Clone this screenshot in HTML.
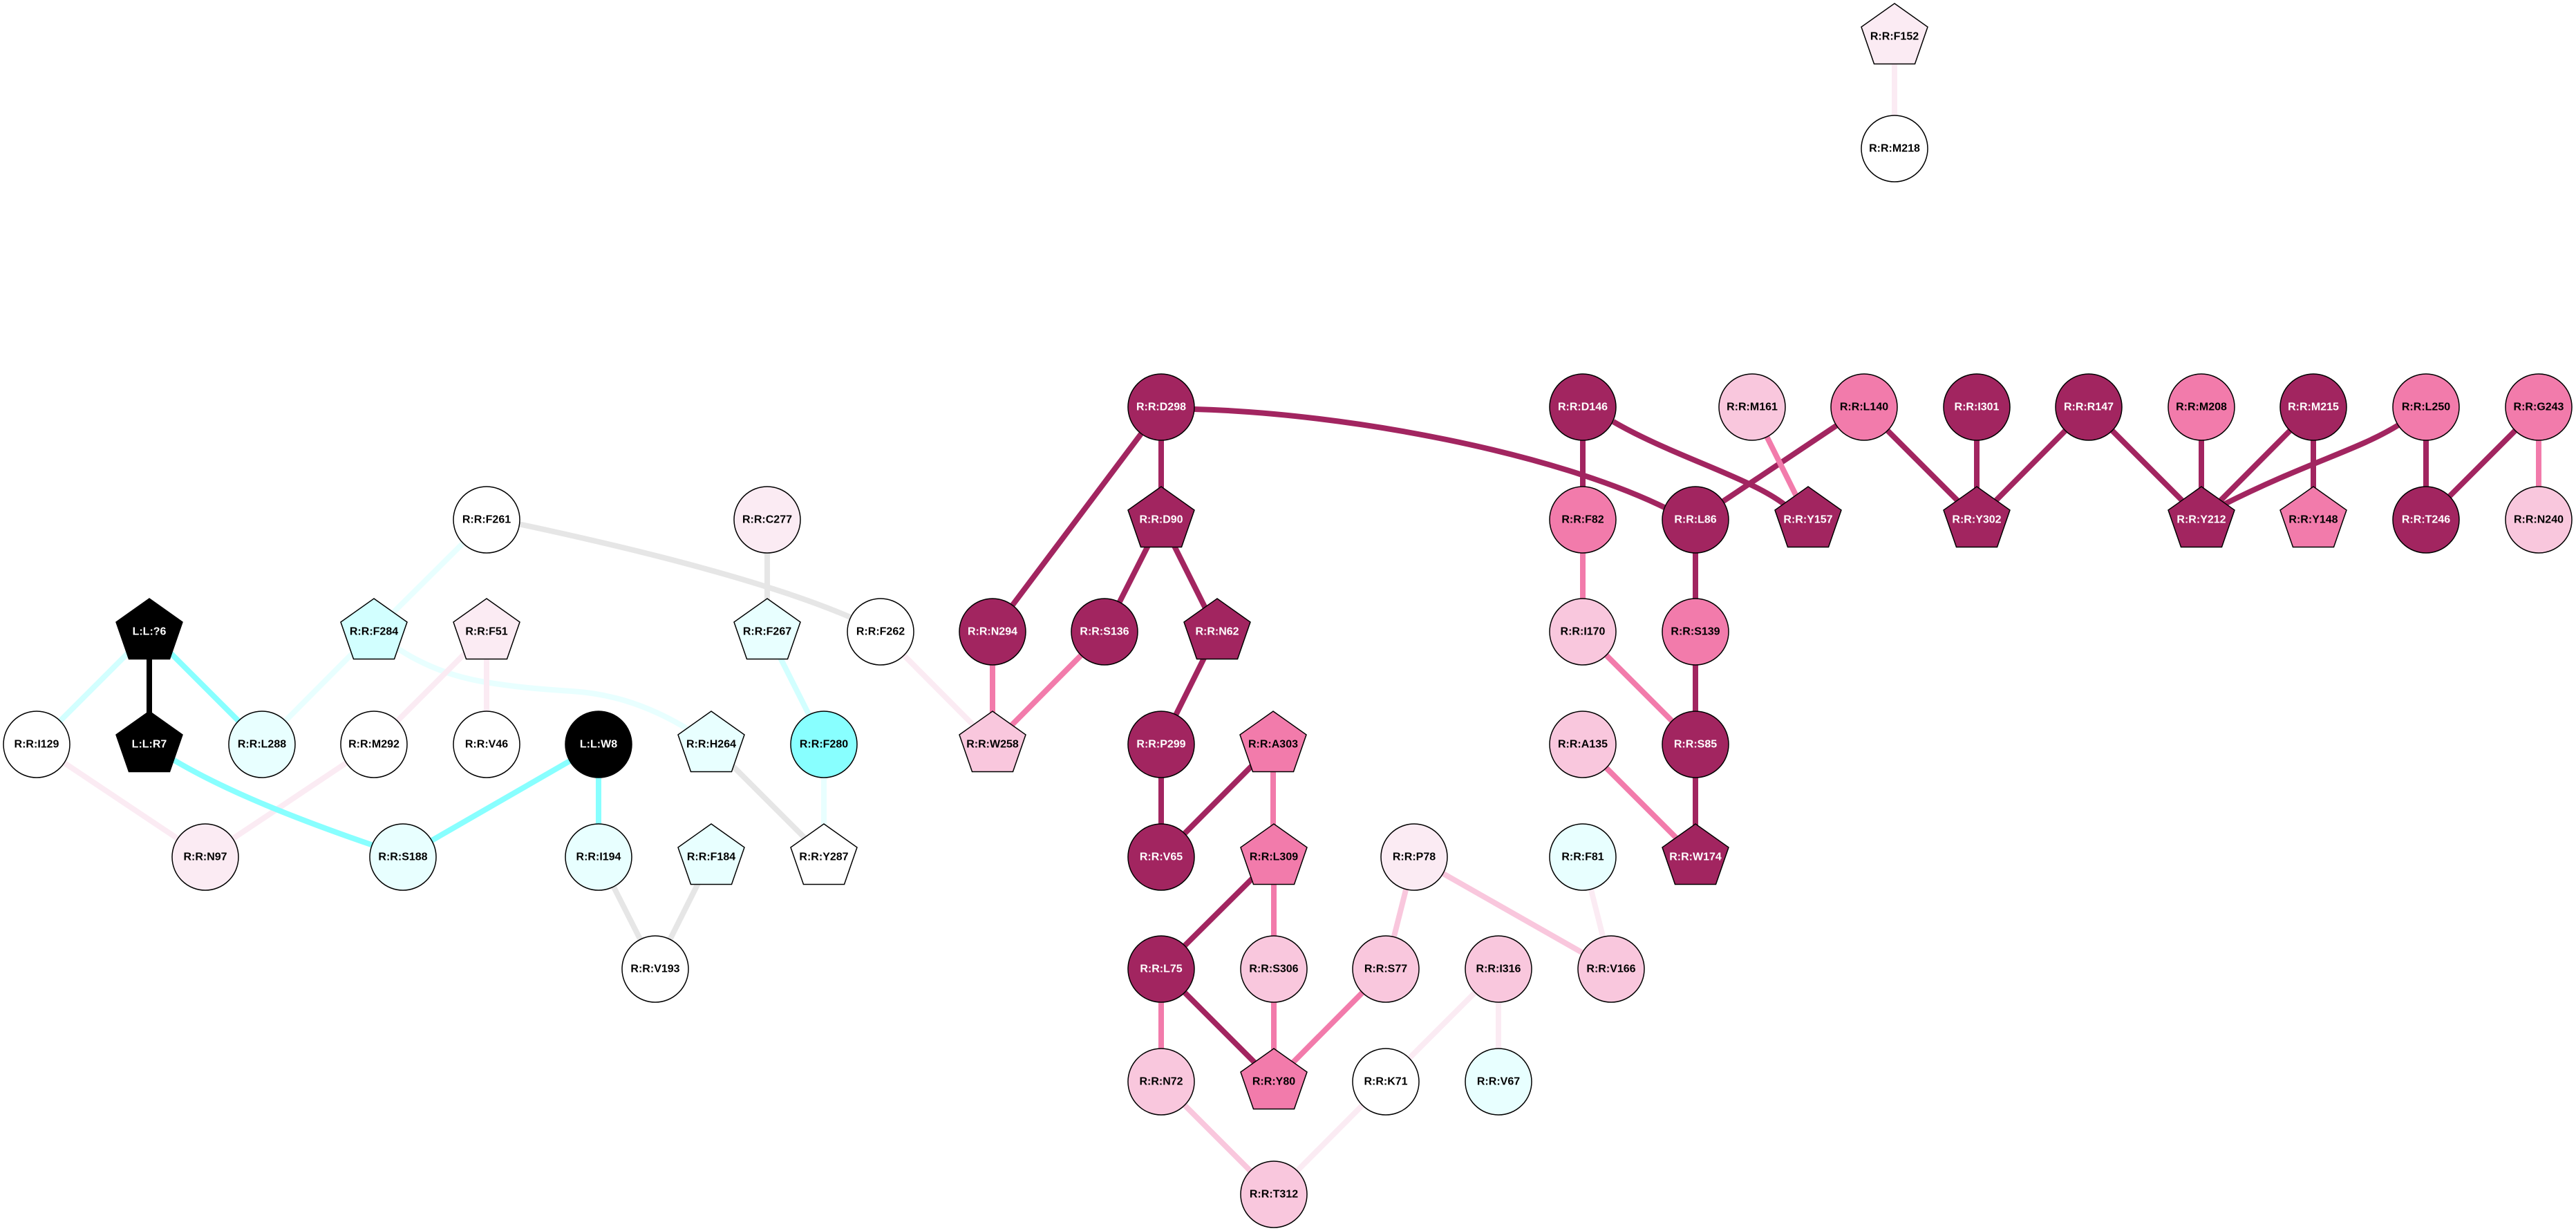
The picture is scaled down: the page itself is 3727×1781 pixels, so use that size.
<!DOCTYPE html>
<html><head><meta charset="utf-8"><title>Network diagram</title>
<style>
html,body{margin:0;padding:0;background:#fff;width:3727px;height:1781px;overflow:hidden}
svg{display:block}
text{font-family:"Liberation Sans",Arial,sans-serif;font-weight:700;font-size:16px;text-anchor:middle;fill:#000}
.d{fill:#a22560}.m{fill:#f27bab}.l{fill:#f9c7dd}.p{fill:#fbebf3}.c{fill:#88ffff}.s{fill:#d2ffff}.e{fill:#e8ffff}.w{fill:#fff}.k{fill:#000}
circle,polygon{stroke:#000;stroke-width:1.5}
.t{fill:#fff}
path{fill:none;stroke-width:8}
</style></head><body>
<svg width="3727" height="1781" viewBox="0 0 3727 1781" xmlns="http://www.w3.org/2000/svg">
<rect width="3727" height="1781" fill="#fff"/>
<path stroke="#e8ffff" d="M704 752L541 914M541 914L379 1077M572 936C615 965 660 980 703 987S780 997 827 1000S930 1015 997 1056M1192 1077V1240"/>
<path stroke="#d2ffff" d="M216 914L53 1077M1110 914L1192 1077"/>
<path stroke="#fbebf3" d="M704 914L541 1077M704 914V1077M541 1077L297 1240M53 1077L297 1240M1274 914L1436 1077M2005 1565L1843 1728M2168 1402L2005 1565M2168 1402V1565M2290 1240L2331 1402M2741 53V215"/>
<path stroke="#e6e6e6" d="M866 1240L948 1402M1029 1240L948 1402M1110 752V914M1029 1077L1192 1240M750 758C900 790 1110 840 1235 895"/>
<path stroke="#f9c7dd" d="M2046 1240L2005 1402M2046 1240L2331 1402M1680 1565L1843 1728"/>
<path stroke="#a22560" d="M1680 589L1436 914M1680 589V752M1680 752L1598 914M1680 752L1761 914M1761 914L1680 1077M1680 1077V1240M1842 1077L1680 1240M1843 1240L1680 1402M1680 1402L1843 1565M2290 589V752M2334 610C2420 660 2530 690 2582 730M1728 592C1950 598 2250 655 2414 737M2453 752V914M2453 914V1077M2453 1077V1240M2697 589L2453 752M2697 589L2860 752M2860 589V752M3022 589L2860 752M3022 589L3185 752M3185 589V752M3347 589L3185 752M3347 589V752M3470 615C3410 652 3340 668 3215 731M3510 589V752M3673 589L3510 752"/>
<path stroke="#f27bab" d="M1436 914V1077M1598 914L1436 1077M1842 1077V1240M1843 1240V1402M1843 1402V1565M1680 1402V1565M2005 1402L1843 1565M2290 752V914M2290 914L2453 1077M2290 1077L2453 1240M2535 589L2616 752M3673 589V752"/>
<path stroke="#88ffff" d="M216 914L379 1077M866 1077L583 1240M866 1077V1240M247 1097C310 1135 400 1175 540 1223"/>
<path stroke="#000" d="M216 914V1077"/>

<polygon class="p" transform="translate(2741,53)" points="0,-48 48,-14 29.5,39.5 -29.5,39.5 -48,-14"/><text x="2741" y="57.5">R:R:F152</text>
<circle class="w" cx="2741" cy="215" r="48"/><text x="2741" y="219.5">R:R:M218</text>

<circle class="d" cx="1680" cy="589" r="48"/><text class="t" x="1680" y="593.5">R:R:D298</text>
<circle class="d" cx="2290" cy="589" r="48"/><text class="t" x="2290" y="593.5">R:R:D146</text>
<circle class="l" cx="2535" cy="589" r="48"/><text x="2535" y="593.5">R:R:M161</text>
<circle class="m" cx="2697" cy="589" r="48"/><text x="2697" y="593.5">R:R:L140</text>
<circle class="d" cx="2860" cy="589" r="48"/><text class="t" x="2860" y="593.5">R:R:I301</text>
<circle class="d" cx="3022" cy="589" r="48"/><text class="t" x="3022" y="593.5">R:R:R147</text>
<circle class="m" cx="3185" cy="589" r="48"/><text x="3185" y="593.5">R:R:M208</text>
<circle class="d" cx="3347" cy="589" r="48"/><text class="t" x="3347" y="593.5">R:R:M215</text>
<circle class="m" cx="3510" cy="589" r="48"/><text x="3510" y="593.5">R:R:L250</text>
<circle class="m" cx="3673" cy="589" r="48"/><text x="3673" y="593.5">R:R:G243</text>

<circle class="w" cx="704" cy="752" r="48"/><text x="704" y="756.5">R:R:F261</text>
<circle class="p" cx="1110" cy="752" r="48"/><text x="1110" y="756.5">R:R:C277</text>
<polygon class="d" transform="translate(1680,752)" points="0,-48 48,-14 29.5,39.5 -29.5,39.5 -48,-14"/><text class="t" x="1680" y="756.5">R:R:D90</text>
<circle class="m" cx="2290" cy="752" r="48"/><text x="2290" y="756.5">R:R:F82</text>
<circle class="d" cx="2453" cy="752" r="48"/><text class="t" x="2453" y="756.5">R:R:L86</text>
<polygon class="d" transform="translate(2616,752)" points="0,-48 48,-14 29.5,39.5 -29.5,39.5 -48,-14"/><text class="t" x="2616" y="756.5">R:R:Y157</text>
<polygon class="d" transform="translate(2860,752)" points="0,-48 48,-14 29.5,39.5 -29.5,39.5 -48,-14"/><text class="t" x="2860" y="756.5">R:R:Y302</text>
<polygon class="d" transform="translate(3185,752)" points="0,-48 48,-14 29.5,39.5 -29.5,39.5 -48,-14"/><text class="t" x="3185" y="756.5">R:R:Y212</text>
<polygon class="m" transform="translate(3347,752)" points="0,-48 48,-14 29.5,39.5 -29.5,39.5 -48,-14"/><text x="3347" y="756.5">R:R:Y148</text>
<circle class="d" cx="3510" cy="752" r="48"/><text class="t" x="3510" y="756.5">R:R:T246</text>
<circle class="l" cx="3673" cy="752" r="48"/><text x="3673" y="756.5">R:R:N240</text>

<polygon class="k" transform="translate(216,914)" points="0,-48 48,-14 29.5,39.5 -29.5,39.5 -48,-14"/><text class="t" x="216" y="918.5">L:L:?6</text>
<polygon class="s" transform="translate(541,914)" points="0,-48 48,-14 29.5,39.5 -29.5,39.5 -48,-14"/><text x="541" y="918.5">R:R:F284</text>
<polygon class="p" transform="translate(704,914)" points="0,-48 48,-14 29.5,39.5 -29.5,39.5 -48,-14"/><text x="704" y="918.5">R:R:F51</text>
<polygon class="e" transform="translate(1110,914)" points="0,-48 48,-14 29.5,39.5 -29.5,39.5 -48,-14"/><text x="1110" y="918.5">R:R:F267</text>
<circle class="w" cx="1274" cy="914" r="48"/><text x="1274" y="918.5">R:R:F262</text>
<circle class="d" cx="1436" cy="914" r="48"/><text class="t" x="1436" y="918.5">R:R:N294</text>
<circle class="d" cx="1598" cy="914" r="48"/><text class="t" x="1598" y="918.5">R:R:S136</text>
<polygon class="d" transform="translate(1761,914)" points="0,-48 48,-14 29.5,39.5 -29.5,39.5 -48,-14"/><text class="t" x="1761" y="918.5">R:R:N62</text>
<circle class="l" cx="2290" cy="914" r="48"/><text x="2290" y="918.5">R:R:I170</text>
<circle class="m" cx="2453" cy="914" r="48"/><text x="2453" y="918.5">R:R:S139</text>

<circle class="w" cx="53" cy="1077" r="48"/><text x="53" y="1081.5">R:R:I129</text>
<polygon class="k" transform="translate(216,1077)" points="0,-48 48,-14 29.5,39.5 -29.5,39.5 -48,-14"/><text class="t" x="216" y="1081.5">L:L:R7</text>
<circle class="e" cx="379" cy="1077" r="48"/><text x="379" y="1081.5">R:R:L288</text>
<circle class="w" cx="541" cy="1077" r="48"/><text x="541" y="1081.5">R:R:M292</text>
<circle class="w" cx="704" cy="1077" r="48"/><text x="704" y="1081.5">R:R:V46</text>
<circle class="k" cx="866" cy="1077" r="48"/><text class="t" x="866" y="1081.5">L:L:W8</text>
<polygon class="e" transform="translate(1029,1077)" points="0,-48 48,-14 29.5,39.5 -29.5,39.5 -48,-14"/><text x="1029" y="1081.5">R:R:H264</text>
<circle class="c" cx="1192" cy="1077" r="48"/><text x="1192" y="1081.5">R:R:F280</text>
<polygon class="l" transform="translate(1436,1077)" points="0,-48 48,-14 29.5,39.5 -29.5,39.5 -48,-14"/><text x="1436" y="1081.5">R:R:W258</text>
<circle class="d" cx="1680" cy="1077" r="48"/><text class="t" x="1680" y="1081.5">R:R:P299</text>
<polygon class="m" transform="translate(1842,1077)" points="0,-48 48,-14 29.5,39.5 -29.5,39.5 -48,-14"/><text x="1842" y="1081.5">R:R:A303</text>
<circle class="l" cx="2290" cy="1077" r="48"/><text x="2290" y="1081.5">R:R:A135</text>
<circle class="d" cx="2453" cy="1077" r="48"/><text class="t" x="2453" y="1081.5">R:R:S85</text>

<circle class="p" cx="297" cy="1240" r="48"/><text x="297" y="1244.5">R:R:N97</text>
<circle class="e" cx="583" cy="1240" r="48"/><text x="583" y="1244.5">R:R:S188</text>
<circle class="e" cx="866" cy="1240" r="48"/><text x="866" y="1244.5">R:R:I194</text>
<polygon class="e" transform="translate(1029,1240)" points="0,-48 48,-14 29.5,39.5 -29.5,39.5 -48,-14"/><text x="1029" y="1244.5">R:R:F184</text>
<polygon class="w" transform="translate(1192,1240)" points="0,-48 48,-14 29.5,39.5 -29.5,39.5 -48,-14"/><text x="1192" y="1244.5">R:R:Y287</text>
<circle class="d" cx="1680" cy="1240" r="48"/><text class="t" x="1680" y="1244.5">R:R:V65</text>
<polygon class="m" transform="translate(1843,1240)" points="0,-48 48,-14 29.5,39.5 -29.5,39.5 -48,-14"/><text x="1843" y="1244.5">R:R:L309</text>
<circle class="p" cx="2046" cy="1240" r="48"/><text x="2046" y="1244.5">R:R:P78</text>
<circle class="e" cx="2290" cy="1240" r="48"/><text x="2290" y="1244.5">R:R:F81</text>
<polygon class="d" transform="translate(2453,1240)" points="0,-48 48,-14 29.5,39.5 -29.5,39.5 -48,-14"/><text class="t" x="2453" y="1244.5">R:R:W174</text>

<circle class="w" cx="948" cy="1402" r="48"/><text x="948" y="1406.5">R:R:V193</text>
<circle class="d" cx="1680" cy="1402" r="48"/><text class="t" x="1680" y="1406.5">R:R:L75</text>
<circle class="l" cx="1843" cy="1402" r="48"/><text x="1843" y="1406.5">R:R:S306</text>
<circle class="l" cx="2005" cy="1402" r="48"/><text x="2005" y="1406.5">R:R:S77</text>
<circle class="l" cx="2168" cy="1402" r="48"/><text x="2168" y="1406.5">R:R:I316</text>
<circle class="l" cx="2331" cy="1402" r="48"/><text x="2331" y="1406.5">R:R:V166</text>

<circle class="l" cx="1680" cy="1565" r="48"/><text x="1680" y="1569.5">R:R:N72</text>
<polygon class="m" transform="translate(1843,1565)" points="0,-48 48,-14 29.5,39.5 -29.5,39.5 -48,-14"/><text x="1843" y="1569.5">R:R:Y80</text>
<circle class="w" cx="2005" cy="1565" r="48"/><text x="2005" y="1569.5">R:R:K71</text>
<circle class="e" cx="2168" cy="1565" r="48"/><text x="2168" y="1569.5">R:R:V67</text>

<circle class="l" cx="1843" cy="1728" r="48"/><text x="1843" y="1732.5">R:R:T312</text>
</svg>
</body></html>
